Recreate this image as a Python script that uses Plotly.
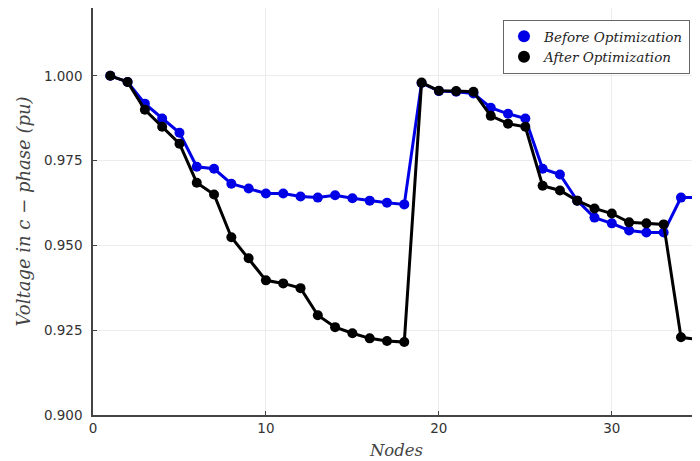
import plotly.graph_objects as go

nodes = list(range(1, 36))
before_opt = [1.000, 0.9982, 0.9918, 0.9874, 0.9832, 0.9732, 0.9726, 0.9682, 0.9668, 0.9653,
              0.9653, 0.9644, 0.9641, 0.9648, 0.9639, 0.9632, 0.9626, 0.9621, 0.9979, 0.9955,
              0.9953, 0.9948, 0.9906, 0.9888, 0.9874, 0.9726, 0.9709, 0.9632, 0.9582, 0.9565,
              0.9544, 0.9538, 0.9538, 0.9641, 0.9641]
after_opt = [1.000, 0.9982, 0.9900, 0.9850, 0.9800, 0.9685, 0.9650, 0.9524, 0.9462, 0.9397,
             0.9388, 0.9374, 0.9294, 0.9259, 0.9241, 0.9226, 0.9218, 0.9215, 0.9980, 0.9956,
             0.9955, 0.9953, 0.9882, 0.9859, 0.9850, 0.9676, 0.9662, 0.9632, 0.9609, 0.9594,
             0.9568, 0.9565, 0.9562, 0.9229, 0.9222]
series_names = ["Before Optimization", "After Optimization"]
series_colors = ["#0000e6", "#000000"]

fig = go.Figure()
for name, vals, col in zip(series_names, [before_opt, after_opt], series_colors):
    fig.add_trace(go.Scatter(x=nodes, y=vals, mode="lines+markers", name=name,
                             line=dict(color=col, width=3),
                             marker=dict(color=col, size=10), showlegend=False))
for name, col in zip(series_names, series_colors):
    fig.add_trace(go.Scatter(x=[None], y=[None], mode="markers", name=name,
                             marker=dict(color=col, size=11), showlegend=True))

axis_common = dict(showline=True, linecolor="#444", linewidth=1.5, mirror=False,
                   showgrid=True, gridcolor="#ececec", gridwidth=1,
                   ticks="inside", ticklen=4, tickcolor="#444", zeroline=False,
                   tickfont=dict(family="DejaVu Sans", size=13.5, color="#333"))

fig.update_layout(
    width=692, height=453,
    margin=dict(l=85, r=0, t=0, b=46),
    plot_bgcolor="white", paper_bgcolor="white",
    xaxis=dict(range=[0, 35.1], tickvals=[0, 10, 20, 30],
               title=dict(text="Nodes", standoff=9,
                          font=dict(family="DejaVu Serif", size=16.5, color="#444", style="italic")),
               **axis_common),
    yaxis=dict(range=[0.9, 1.02], tickvals=[0.900, 0.925, 0.950, 0.975, 1.000],
               tickformat=".3f", ticklabelstandoff=6,
               **axis_common),
    legend=dict(x=0.9835, y=0.9705, xanchor="right", yanchor="top",
                bordercolor="#666", borderwidth=1, bgcolor="white",
                font=dict(family="DejaVu Serif", size=13.5, color="#222", style="italic"),
                itemsizing="constant", tracegroupgap=0),
    annotations=[dict(text="Voltage in c − phase (pu)", xref="paper", yref="paper",
                      x=-0.1153, y=0.5, xanchor="center", yanchor="middle",
                      textangle=-90, showarrow=False,
                      font=dict(family="DejaVu Serif", size=18, color="#444", style="italic"))],
)

fig.write_html("out.html")
